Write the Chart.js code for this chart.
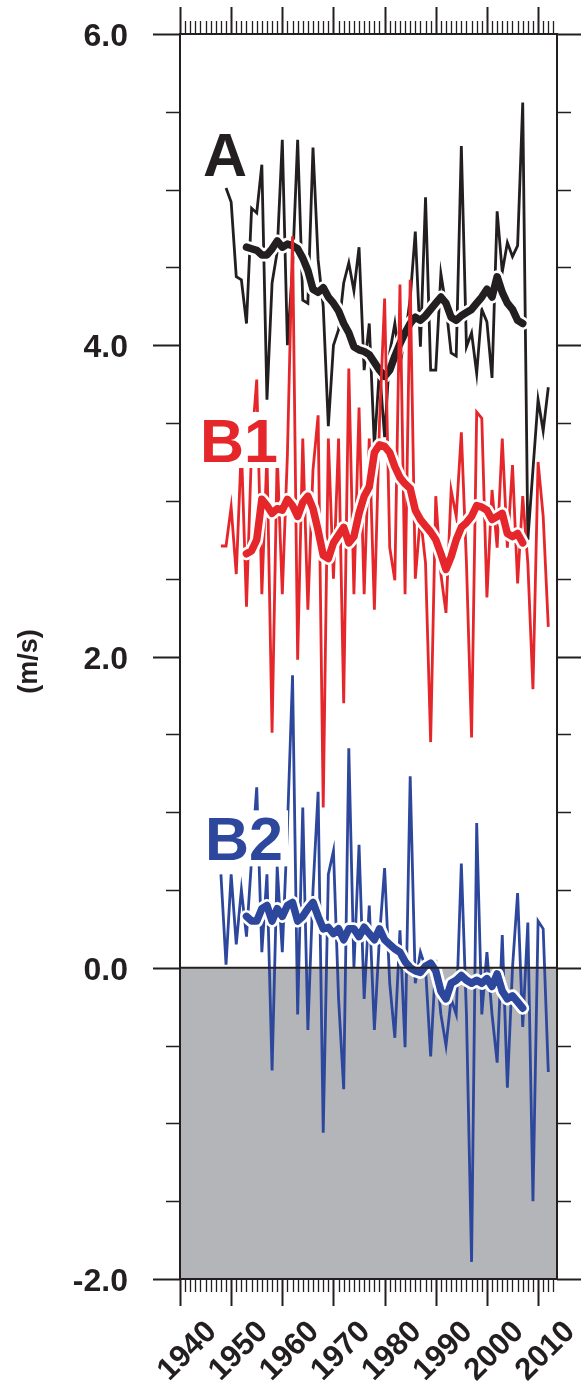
<!DOCTYPE html>
<html>
<head>
<meta charset="utf-8">
<script src="https://cdn.jsdelivr.net/npm/chart.js@4.4.1/dist/chart.umd.min.js"></script>
<style>
  html, body { margin: 0; padding: 0; background: #ffffff; }
  canvas { display: block; }
</style>
</head>
<body>
<canvas id="chart" width="581" height="1385"></canvas>
<script>
// Years of the annual records
const years = [1948,1949,1950,1951,1952,1953,1954,1955,1956,1957,1958,1959,1960,1961,1962,1963,1964,1965,1966,1967,
               1968,1969,1970,1971,1972,1973,1974,1975,1976,1977,1978,1979,1980,1981,1982,1983,1984,1985,1986,1987,
               1988,1989,1990,1991,1992,1993,1994,1995,1996,1997,1998,1999,2000,2001,2002,2003,2004,2005,2006,2007,
               2008,2009,2010,2011,2012];

// Annual values (m/s)
const seriesA = [null,5.01,4.92,4.44,4.42,4.14,4.88,4.85,5.16,3.65,4.40,4.60,5.32,4.00,4.50,5.32,4.29,4.27,5.27,4.55,
                 4.25,3.48,4.00,4.10,4.40,4.53,4.35,4.63,3.84,4.14,3.35,3.85,3.41,3.95,4.14,3.88,4.05,4.30,4.73,3.99,
                 4.95,3.84,3.84,4.46,4.25,3.95,3.93,5.28,3.99,4.08,3.82,4.23,4.15,3.79,4.86,4.47,4.66,4.57,4.64,5.56,
                 2.75,3.20,3.65,3.45,3.73];
const seriesB1 = [2.71,2.71,2.96,2.53,3.35,2.32,3.35,3.78,2.40,3.30,1.51,3.30,2.40,3.30,4.70,1.98,3.40,2.30,3.20,3.55,
                  1.03,3.40,2.50,3.40,1.70,3.85,2.40,3.60,2.40,3.40,2.30,3.50,4.30,2.70,2.49,4.39,2.40,4.42,2.50,2.90,
                  2.60,1.45,3.03,2.53,2.28,3.07,2.90,3.44,2.60,1.48,3.57,3.53,2.38,3.07,2.70,3.40,2.70,3.23,2.47,3.03,
                  2.60,1.79,3.25,2.90,2.19];
const seriesB2 = [0.60,0.02,0.60,0.15,0.50,0.20,0.70,1.16,0.10,0.60,-0.66,0.65,0.10,0.90,1.88,-0.30,1.03,-0.40,0.50,1.13,
                  -1.06,0.60,0.75,-0.20,-0.78,1.41,0.00,0.79,-0.20,0.40,-0.40,0.20,0.64,-0.10,-0.45,0.24,-0.51,1.23,-0.10,0.10,
                  0.00,-0.57,0.05,-0.30,-0.50,-0.20,-0.30,0.67,-0.30,-1.89,0.93,-0.30,0.10,-0.30,-0.61,0.21,-0.77,0.00,0.48,-0.38,
                  0.29,-1.50,0.30,0.25,-0.67];

// Running means (same year positions, undefined at the ends)
const smoothA = [null,null,null,null,null,
                 4.63,4.62,4.61,4.58,4.58,4.62,4.67,4.63,4.65,4.64,
                 4.62,4.56,4.48,4.36,4.34,4.37,4.31,4.27,4.22,4.14,
                 4.08,3.99,3.97,3.96,3.94,3.89,3.84,3.80,3.84,3.93,
                 4.01,4.08,4.14,4.18,4.16,4.19,4.23,4.27,4.31,4.27,
                 4.18,4.16,4.19,4.21,4.23,4.27,4.31,4.36,4.31,4.44,
                 4.34,4.27,4.23,4.16,4.14,
                 null,null,null,null,null];
const smoothB1 = [null,null,null,null,null,
                  2.66,2.68,2.75,3.01,2.97,2.92,2.95,2.94,3.01,2.97,
                  2.90,2.99,3.03,2.95,2.81,2.65,2.63,2.73,2.78,2.83,
                  2.73,2.77,2.92,3.03,3.09,3.31,3.36,3.35,3.31,3.22,
                  3.15,3.11,3.08,2.94,2.88,2.84,2.80,2.75,2.66,2.56,
                  2.64,2.75,2.83,2.86,2.90,2.97,2.96,2.94,2.88,2.90,
                  2.92,2.79,2.77,2.79,2.73,
                  null,null,null,null,null];
const smoothB2 = [null,null,null,null,null,
                  0.33,0.30,0.30,0.38,0.40,0.30,0.38,0.33,0.40,0.42,
                  0.30,0.33,0.38,0.42,0.33,0.25,0.26,0.22,0.25,0.18,
                  0.25,0.25,0.20,0.26,0.22,0.18,0.25,0.18,0.15,0.12,
                  0.10,0.04,0.00,-0.02,-0.03,0.01,0.03,-0.02,-0.15,-0.20,
                  -0.10,-0.08,-0.05,-0.08,-0.10,-0.08,-0.10,-0.07,-0.12,-0.04,
                  -0.15,-0.20,-0.18,-0.22,-0.26,
                  null,null,null,null,null];

// Axis ticks and labels
const xMajorTicks = [1940,1950,1960,1970,1980,1990,2000,2010];
const xTickLabels = ['1940','1950','1960','1970','1980','1990','2000','2010'];
const yMajorTicks = [6,4,2,0,-2];
const yTickLabels = ['6.0','4.0','2.0','0.0','-2.0'];
const yTitle = '(m/s)';

// Series names placed inside the plot
const seriesNames = ['A','B1','B2'];

const BLACK = '#231f20';
const RED = '#e5262a';
const BLUE = '#2d479d';
const SHADE = '#b4b5b9';
const FONT = '"Liberation Sans", Arial, Helvetica, sans-serif';

function pts(vals) {
  return years.map((yr, i) => ({ x: yr, y: vals[i] }));
}

function thin(vals, color, order) {
  return { data: pts(vals), borderColor: color, borderWidth: 2.8, pointRadius: 0,
           tension: 0, fill: false, order: order, borderJoinStyle: 'miter' };
}
function thick(vals, color, width, order) {
  return { data: pts(vals), borderColor: color, borderWidth: width, pointRadius: 0,
           tension: 0, fill: false, order: order, borderJoinStyle: 'round', borderCapStyle: 'round' };
}

const axisDecor = {
  id: 'axisDecor',
  beforeDatasetsDraw(chart) {
    const { ctx, chartArea: a, scales: { y } } = chart;
    const y0 = y.getPixelForValue(0);
    ctx.save();
    ctx.fillStyle = SHADE;
    ctx.fillRect(a.left, y0, a.right - a.left, a.bottom - y0);
    ctx.restore();
  },
  afterDatasetsDraw(chart) {
    const { ctx, scales: { x, y } } = chart;
    // series names with a white backing box
    const spots = [
      { text: seriesNames[0], color: BLACK, yr: 1944.5, v: 5.09 },
      { text: seriesNames[1], color: RED,   yr: 1943.9, v: 3.25 },
      { text: seriesNames[2], color: BLUE,  yr: 1944.9, v: 0.69 }
    ];
    ctx.save();
    ctx.font = 'bold 61px ' + FONT;
    ctx.textAlign = 'left';
    ctx.textBaseline = 'alphabetic';
    spots.forEach(s => {
      const px = x.getPixelForValue(s.yr);
      const py = y.getPixelForValue(s.v);
      const w = ctx.measureText(s.text).width;
      ctx.fillStyle = '#ffffff';
      ctx.fillRect(px - 5, py - 50, w + 10, 56);
      ctx.fillStyle = s.color;
      ctx.fillText(s.text, px, py);
    });
    ctx.restore();
  },
  afterDraw(chart) {
    const { ctx, chartArea: a, scales: { x, y } } = chart;
    ctx.save();
    ctx.strokeStyle = BLACK;
    ctx.lineCap = 'butt';

    // zero line across the plot
    const y0 = y.getPixelForValue(0);
    ctx.lineWidth = 2;
    ctx.beginPath();
    ctx.moveTo(a.left, y0); ctx.lineTo(a.right, y0);
    ctx.stroke();

    // frame
    ctx.lineWidth = 2;
    ctx.strokeRect(a.left, a.top, a.right - a.left, a.bottom - a.top);

    // x ticks (top and bottom, outward)
    for (let yr = 1940; yr <= 2013; yr++) {
      const px = Math.round(x.getPixelForValue(yr)) + 0.5;
      const major = xMajorTicks.includes(yr);
      const len = major ? 27 : 13;
      ctx.lineWidth = major ? 2 : 1.3;
      ctx.beginPath();
      ctx.moveTo(px, a.top); ctx.lineTo(px, a.top - len);
      ctx.moveTo(px, a.bottom); ctx.lineTo(px, a.bottom + len);
      ctx.stroke();
    }
    // y ticks (left and right, outward)
    for (let k = 0; k <= 16; k++) {
      const v = -2 + k * 0.5;
      const py = Math.round(y.getPixelForValue(v)) + 0.5;
      const major = yMajorTicks.includes(v);
      const len = major ? 27 : 14;
      ctx.lineWidth = major ? 2 : 1.3;
      ctx.beginPath();
      ctx.moveTo(a.left, py); ctx.lineTo(a.left - len, py);
      ctx.moveTo(a.right, py); ctx.lineTo(a.right + len, py);
      ctx.stroke();
    }

    // y tick labels
    ctx.fillStyle = BLACK;
    ctx.font = 'bold 32px ' + FONT;
    ctx.textAlign = 'right';
    ctx.textBaseline = 'alphabetic';
    yMajorTicks.forEach((v, i) => {
      const py = y.getPixelForValue(v);
      ctx.fillText(yTickLabels[i], a.left - 52, py + 12);
    });

    // x tick labels, rotated
    ctx.font = 'bold 31px ' + FONT;
    xMajorTicks.forEach((yr, i) => {
      const px = x.getPixelForValue(yr);
      ctx.save();
      ctx.translate(px + 38, a.bottom + 54);
      ctx.rotate(-Math.PI / 4);
      ctx.textAlign = 'right';
      ctx.fillText(xTickLabels[i], 0, 0);
      ctx.restore();
    });

    // y axis title
    ctx.font = 'bold 27px ' + FONT;
    ctx.save();
    ctx.translate(30, y.getPixelForValue(2) + 5);
    ctx.rotate(-Math.PI / 2);
    ctx.textAlign = 'center';
    ctx.textBaseline = 'middle';
    ctx.fillText(yTitle, 0, 0);
    ctx.restore();

    ctx.restore();
  }
};

new Chart(document.getElementById('chart'), {
  type: 'line',
  data: {
    datasets: [
      thick(smoothB2, BLUE, 7.5, 0),
      thick(smoothB2, '#ffffff', 13, 1),
      thin(seriesB2, BLUE, 2),
      thick(smoothB1, RED, 7.5, 3),
      thick(smoothB1, '#ffffff', 13, 4),
      thin(seriesB1, RED, 5),
      thick(smoothA, BLACK, 7.5, 6),
      thick(smoothA, '#ffffff', 13, 7),
      thin(seriesA, BLACK, 8)
    ]
  },
  options: {
    responsive: false,
    animation: false,
    devicePixelRatio: 1,
    layout: { padding: { left: 180, right: 24, top: 34, bottom: 106 } },
    plugins: { legend: { display: false }, tooltip: { enabled: false } },
    scales: {
      x: { type: 'linear', min: 1940, max: 2013.7, display: false },
      y: { type: 'linear', min: -2, max: 6, display: false }
    }
  },
  plugins: [axisDecor]
});
</script>
</body>
</html>
